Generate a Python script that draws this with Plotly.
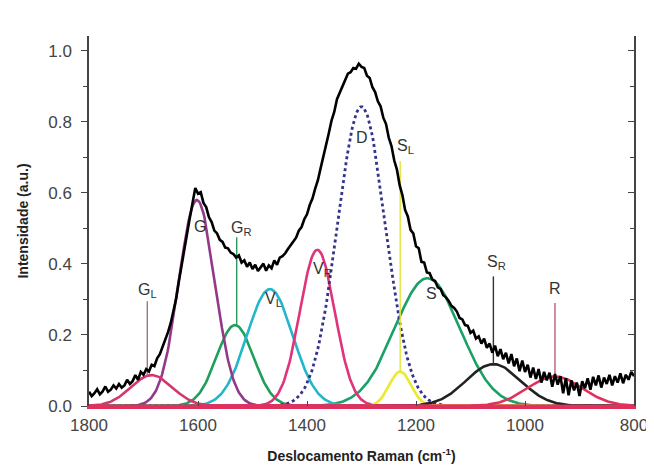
import numpy as np
import plotly.graph_objects as go

# ---------------- data ----------------
peak_names = ["G<sub>L</sub>", "G", "G<sub>R</sub>", "V<sub>L</sub>", "V<sub>R</sub>",
              "D", "S<sub>L</sub>", "S", "S<sub>R</sub>", "R"]
peak_centers = [1685, 1602, 1532, 1468, 1381, 1300, 1229, 1179, 1058, 945]
peak_heights = [0.087, 0.58, 0.228, 0.329, 0.44, 0.843, 0.097, 0.36, 0.118, 0.083]
peak_sigmas = [38, 33, 34, 42, 32, 44, 20, 60, 50, 50]

spectrum_x = list(range(1800, 799, -5))
spectrum_y = [
    0.040, 0.028, 0.036, 0.047, 0.033, 0.041, 0.055, 0.040, 0.046, 0.058,
    0.049, 0.062, 0.052, 0.058, 0.074, 0.062, 0.070, 0.087, 0.074, 0.096, 0.088,
    0.104, 0.097, 0.116, 0.112, 0.134, 0.146, 0.166, 0.184, 0.208, 0.234,
    0.266, 0.303, 0.352, 0.398, 0.446, 0.494, 0.530, 0.572, 0.614, 0.598,
    0.602, 0.572, 0.560, 0.532, 0.518, 0.494, 0.486, 0.468, 0.462, 0.446,
    0.444, 0.432, 0.428, 0.418, 0.424, 0.404, 0.410, 0.392, 0.404, 0.386,
    0.398, 0.380, 0.392, 0.401, 0.381, 0.396, 0.388, 0.410, 0.398, 0.418,
    0.422, 0.430, 0.442, 0.452, 0.464, 0.474, 0.494, 0.504, 0.526, 0.540,
    0.566, 0.584, 0.612, 0.636, 0.670, 0.700, 0.738, 0.768, 0.804, 0.828,
    0.864, 0.882, 0.904, 0.918, 0.936, 0.940, 0.952, 0.950, 0.964, 0.955,
    0.952, 0.930, 0.924, 0.898, 0.884, 0.858, 0.844, 0.812, 0.794, 0.756,
    0.732, 0.692, 0.666, 0.622, 0.594, 0.552, 0.534, 0.496, 0.486, 0.450,
    0.444, 0.406, 0.404, 0.376, 0.374, 0.356, 0.352, 0.334, 0.330, 0.312,
    0.306, 0.296, 0.282, 0.276, 0.266, 0.248, 0.244, 0.228, 0.226, 0.206,
    0.212, 0.190, 0.196, 0.176, 0.190, 0.164, 0.176, 0.150, 0.170, 0.140,
    0.160, 0.132, 0.150, 0.120, 0.146, 0.112, 0.134, 0.098, 0.128, 0.096,
    0.116, 0.080, 0.108, 0.076, 0.104, 0.066, 0.096, 0.072, 0.094, 0.054,
    0.090, 0.060, 0.084, 0.036, 0.078, 0.030, 0.072, 0.044, 0.066, 0.028,
    0.070, 0.050, 0.078, 0.046, 0.082, 0.058, 0.086, 0.052, 0.080, 0.062,
    0.088, 0.058, 0.084, 0.066, 0.092, 0.064, 0.088, 0.074, 0.096, 0.084,
]

x_ticks = [1800, 1600, 1400, 1200, 1000, 800]
y_ticks = [0.0, 0.2, 0.4, 0.6, 0.8, 1.0]

# ---------------- styles / label layout ----------------
peak_colors = ["#d4376b", "#93398a", "#1f9e5c", "#22b6cc", "#e0337a",
               "#34348e", "#ecea2c", "#1aa266", "#222222", "#e2305c"]
peak_dash = ["solid", "solid", "solid", "solid", "solid",
             "dot", "solid", "solid", "solid", "solid"]
draw_order = [2, 7, 3, 4, 1, 5, 6, 8, 0, 9]
label_pos = {0: (1692, 0.325), 1: (1597, 0.505), 2: (1520, 0.50), 3: (1462, 0.30),
             4: (1372, 0.385), 5: (1299, 0.755), 6: (1220, 0.73), 7: (1172, 0.318),
             8: (1052, 0.405), 9: (945, 0.33)}
pointer = {0: (1693, 0.295, "#a07088"), 2: (1529, 0.475, "#2a9a5a"),
           6: (1229, 0.69, "#e4e43a"), 8: (1058, 0.365, "#333333"),
           9: (945, 0.29, "#c05a7a")}
FONT = "Liberation Sans, Arial, sans-serif"


def gauss(x, i):
    x = np.asarray(x, dtype=float)
    return peak_heights[i] * np.exp(-0.5 * ((x - peak_centers[i]) / peak_sigmas[i]) ** 2)


grid = np.arange(800, 1801, 2)
fig = go.Figure()

for i in draw_order:
    fig.add_trace(go.Scatter(x=grid, y=gauss(grid, i), mode="lines",
                             line=dict(color=peak_colors[i], width=2.6 if peak_dash[i] == "solid" else 2.8,
                                       dash=peak_dash[i]),
                             hoverinfo="skip", showlegend=False))

for i, (px, top, col) in pointer.items():
    fig.add_trace(go.Scatter(x=[px, px], y=[float(gauss(px, i)), top], mode="lines",
                             line=dict(color=col, width=1.4), hoverinfo="skip", showlegend=False))

fig.add_trace(go.Scatter(x=spectrum_x, y=spectrum_y, mode="lines",
                         line=dict(color="black", width=2.6), showlegend=False))

# invisible trace for right-side axis
fig.add_trace(go.Scatter(x=[1800], y=[0], yaxis="y2", mode="markers",
                         marker=dict(opacity=0), hoverinfo="skip", showlegend=False))

for i, (lx, ly) in label_pos.items():
    fig.add_annotation(x=lx, y=ly, text=peak_names[i], showarrow=False,
                       font=dict(family=FONT, size=16, color="#333333"))

y_max = 1.042
axis_font = dict(family=FONT, size=17, color="#444444")
fig.update_layout(
    width=646, height=460,
    margin=dict(l=81, r=20, t=28, b=62),
    paper_bgcolor="white", plot_bgcolor="white",
    xaxis=dict(range=[1800, 800], tickvals=x_ticks, ticks="inside", ticklen=5, tickcolor="#444",
               showline=True, linecolor="#e2305c", linewidth=3, showgrid=False, zeroline=False,
               tickfont=axis_font, automargin=False, ticklabelstandoff=2,
               title=dict(text="<b>Deslocamento Raman (cm<sup>-1</sup>)</b>",
                          font=dict(family=FONT, size=14, color="#222"), standoff=17)),
    yaxis=dict(range=[0, y_max], tickvals=y_ticks, tickformat=".1f", ticks="outside", ticklen=6,
               tickcolor="#444", ticklabelstandoff=6,
               minor=dict(dtick=0.1, tick0=0, ticks="outside", ticklen=4, tickcolor="#444"),
               showline=True, linecolor="#444", linewidth=1.5, showgrid=False, zeroline=False,
               tickfont=axis_font, automargin=False,
               title=dict(text="<b>Intensidade (a.u.)</b>",
                          font=dict(family=FONT, size=14, color="#222"), standoff=16)),
    yaxis2=dict(range=[0, y_max], overlaying="y", side="right", tickvals=y_ticks,
                ticks="inside", ticklen=6, showticklabels=False, automargin=False, tickcolor="#444",
                minor=dict(dtick=0.1, tick0=0, ticks="inside", ticklen=4, tickcolor="#444"),
                showline=True, linecolor="#444", linewidth=1.5, showgrid=False, zeroline=False),
)

fig.write_html("out.html")
